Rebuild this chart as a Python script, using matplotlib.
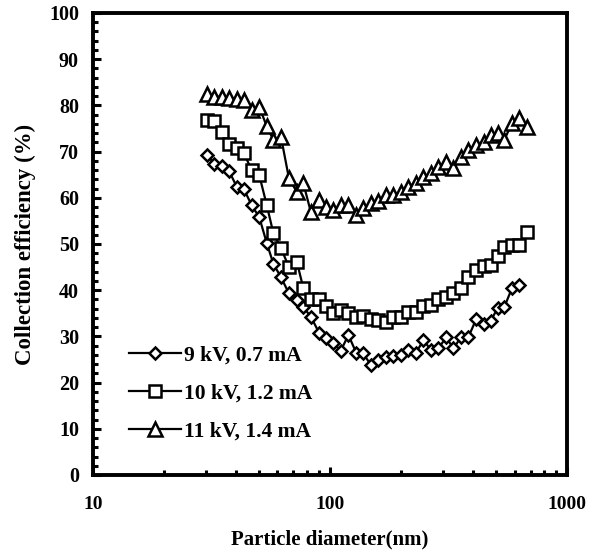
#!/usr/bin/env python3
"""Collection efficiency vs particle diameter for three ESP operating points."""

import matplotlib
matplotlib.use("Agg")
import matplotlib.pyplot as plt
from matplotlib.ticker import FixedLocator, MultipleLocator, NullFormatter

# particle diameters (nm)
DIAM = [30.4, 32.4, 34.9, 37.6, 40.4, 43.4, 46.7, 50.3, 54.1, 57.7, 62.1,
        67.1, 72.4, 77.2, 82.9, 90.1, 96.2, 103.3, 111.0, 119.5, 128.8,
        138.2, 148.5, 159.9, 172.3, 185.0, 199.3, 214.0, 230.7, 247.6,
        266.0, 286.4, 308.7, 331.4, 356.1, 383.3, 413.0, 443.6, 476.5,
        508.1, 542.3, 584.4, 627.5, 676.1]

EFF_9KV = [69.3, 67.3, 66.9, 65.7, 62.4, 61.8, 58.4, 55.8, 50.2, 45.7, 42.8,
           39.3, 37.9, 36.3, 34.3, 30.7, 29.6, 28.5, 26.9, 30.3, 26.5,
           26.3, 23.8, 24.9, 25.6, 25.8, 26.0, 27.1, 26.5, 29.2,
           27.1, 27.4, 29.8, 27.4, 29.8, 29.9, 33.7, 32.7, 33.4,
           36.1, 36.3, 40.4, 41.1]

EFF_10KV = [76.8, 76.7, 74.2, 71.6, 70.7, 69.6, 66.0, 64.9, 58.4, 52.3, 49.1,
            45.0, 46.2, 40.4, 38.2, 38.2, 36.6, 35.0, 35.7, 35.0, 34.3,
            34.4, 33.7, 33.5, 33.2, 34.3, 34.3, 35.3, 35.3, 36.6,
            36.8, 38.2, 38.6, 39.3, 40.4, 42.9, 44.4, 45.2, 45.5,
            47.4, 49.4, 49.8, 49.8, 52.7]

EFF_11KV = [82.4, 81.9, 81.9, 81.7, 81.4, 81.2, 79.0, 79.6, 75.5, 72.5, 73.2,
            64.2, 61.3, 63.1, 57.0, 59.5, 58.1, 57.4, 58.4, 58.4, 56.3,
            57.7, 58.8, 59.2, 60.6, 60.6, 61.2, 62.4, 63.3, 64.6,
            65.3, 66.7, 67.8, 66.4, 68.8, 70.3, 71.4, 72.1, 73.6,
            74.0, 72.5, 76.1, 77.2, 75.4]

LABELS = ["9 kV, 0.7 mA", "10 kV, 1.2 mA", "11 kV, 1.4 mA"]

plt.rcParams["font.family"] = ["Liberation Serif", "DejaVu Serif"]
plt.rcParams["font.weight"] = "bold"
plt.rcParams["font.size"] = 15

fig = plt.figure(figsize=(5.99, 5.54), dpi=100)
ax = fig.add_axes([0.155, 0.1426, 0.792, 0.834])

style = dict(color="black", lw=1.6, mfc="white", mec="black", mew=1.8)
ax.plot(DIAM[:len(EFF_9KV)], EFF_9KV, marker="D", ms=6, label=LABELS[0], **style)
ax.plot(DIAM, EFF_10KV, marker="s", ms=9, label=LABELS[1], **style)
ax.plot(DIAM, EFF_11KV, marker="^", ms=9.5, label=LABELS[2], **style)

ax.set_xscale("log")
ax.set_xlim(10, 1000)
ax.set_ylim(0, 100)
ax.xaxis.set_major_locator(FixedLocator([10, 100, 1000]))
ax.xaxis.set_major_formatter(plt.FuncFormatter(lambda v, p: f"{v:g}"))
ax.xaxis.set_minor_locator(FixedLocator([20, 30, 40, 50, 60, 70, 80, 90,
                                         200, 300, 400, 500, 600, 700, 800, 900]))
ax.xaxis.set_minor_formatter(NullFormatter())
ax.yaxis.set_major_locator(MultipleLocator(10))
ax.yaxis.set_minor_locator(MultipleLocator(2))

for s in ax.spines.values():
    s.set_linewidth(2.8)
ax.tick_params(which="both", direction="in", top=False, right=False, width=2.2)
ax.tick_params(which="major", length=5.5)
ax.tick_params(which="minor", length=3.8)
ax.tick_params(axis="x", which="major", pad=15, labelsize=14)
ax.tick_params(axis="y", which="major", pad=10, labelsize=14.5)

ax.set_xlabel("Particle diameter(nm)", fontweight="bold", fontsize=15, labelpad=12)
ax.set_ylabel("Collection efficiency (%)", fontweight="bold", fontsize=16.5,
              labelpad=9)

ax.legend(loc="upper left", bbox_to_anchor=(0.077, 0.281), frameon=False,
          fontsize=15.5, handlelength=2.42, handletextpad=0.14,
          labelspacing=0.83, borderaxespad=0, borderpad=0)

fig.savefig("out.png", dpi=100)
